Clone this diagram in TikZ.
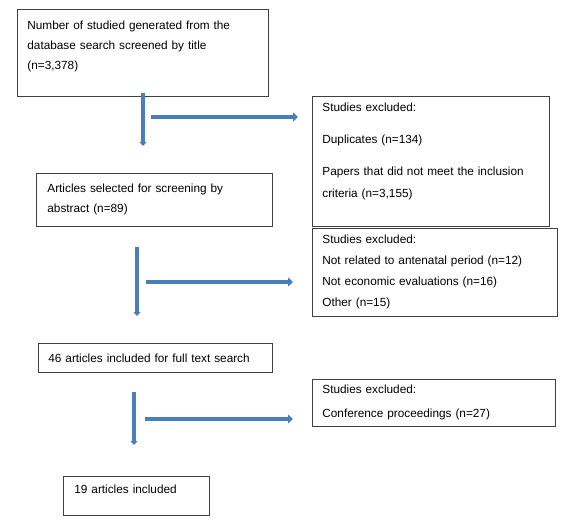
\documentclass[tikz,border=0pt]{standalone}
\usepackage{fontspec}
\setmainfont{Liberation Sans}
\usetikzlibrary{arrows.meta}

\definecolor{arrowblue}{HTML}{4A7EBB}
\definecolor{boxline}{HTML}{404040}

\begin{document}
\begin{tikzpicture}[
    x=1pt, y=-1pt,
    box/.style={draw=boxline, line width=0.8pt, anchor=north west,
        align=left, inner xsep=10pt, inner ysep=0pt,
        font=\fontsize{11.8}{#1}\selectfont},
    box/.default=20,
    flow arrow/.style={draw=arrowblue, line width=3.5pt,
        -{Triangle[length=5pt,width=9pt]}},
    down arrow/.style={flow arrow, -{Triangle[length=4pt,width=7pt]}}
]
    \useasboundingbox (0,0) rectangle (567,527);

    % Draw the main column of boxes
    \node[box, minimum width=251pt, minimum height=87pt, text width=231pt] (search) at (17,9)
        {Number of studied generated from the\\database search screened by title\\(n=3,378)\\[-4pt]\mbox{}};
    \node[box, inner xsep=11pt, minimum width=236pt, minimum height=53pt, text width=214pt] (abstract) at (36,173)
        {Articles selected for screening by\\abstract (n=89)};
    \node[box, minimum width=234pt, minimum height=29pt, text width=214pt] (fulltext) at (38,343)
        {46 articles included for full text search};
    \node[box, inner xsep=11pt, minimum width=146pt, minimum height=39pt, text width=124pt] (included) at (63,476)
        {19 articles included\\[-6pt]\mbox{}};

    % Draw the boxes of excluded studies
    \node[box=22, minimum width=237pt, minimum height=130pt, text width=217pt] (excl-1) at (312,96)
        {Studies excluded:\\[10pt]Duplicates (n=134)\\[10pt]Papers that did not meet the inclusion\\criteria (n=3,155)\\\mbox{}};
    \node[box=21, minimum width=245pt, minimum height=88pt, text width=225pt] (excl-2) at (312,228)
        {Studies excluded:\\Not related to antenatal period (n=12)\\Not economic evaluations (n=16)\\Other (n=15)};
    \node[box=24, minimum width=243pt, minimum height=47pt, text width=223pt] (excl-3) at (312,379)
        {Studies excluded:\\Conference proceedings (n=27)};

    % Draw the downward arrows
    \foreach \n/\x/\ya/\yb in {1/143/93/146, 2/137/247/316, 3/134/392/445} {
        \coordinate (V\n-a) at (\x,\ya);
        \coordinate (V\n-b) at (\x,\yb);
        \draw[down arrow] (V\n-a) -- (V\n-b);
    }

    % Draw the arrows towards the excluded studies
    \foreach \n/\xa/\xb/\y in {1/151/298/117, 2/146/293/282, 3/145/293/419} {
        \coordinate (H\n-a) at (\xa,\y);
        \coordinate (H\n-b) at (\xb,\y);
        \draw[flow arrow] (H\n-a) -- (H\n-b);
    }
\end{tikzpicture}
\end{document}
